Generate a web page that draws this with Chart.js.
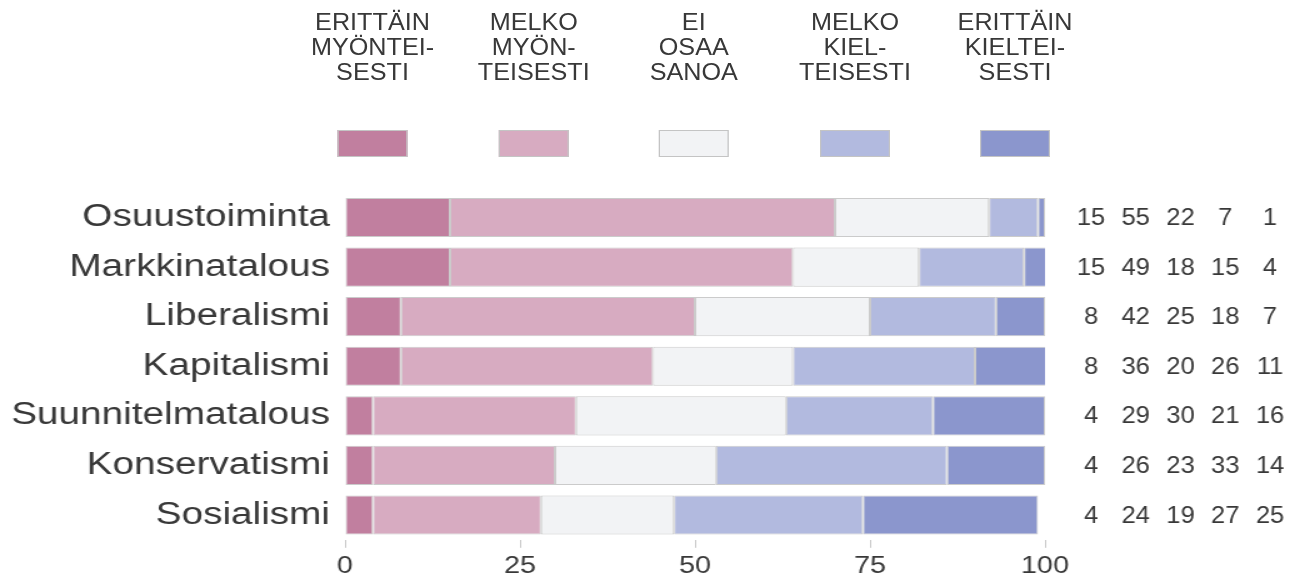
<!DOCTYPE html>
<html><head><meta charset="utf-8">
<script src="https://cdn.jsdelivr.net/npm/chart.js@4.4.1/dist/chart.umd.min.js"></script>
<style>
html,body{margin:0;padding:0;background:#fff;overflow:hidden;width:1307px;height:585px;}
#wrap{position:absolute;left:0;top:0;width:1046px;height:585px;transform:scaleX(1.25);transform-origin:0 0;}
#legend{position:absolute;left:0;top:0;width:100%;height:170px;}
.lt{position:absolute;top:9px;width:160px;margin-left:-80px;text-align:center;font-family:"Liberation Sans",Arial,sans-serif;font-size:24px;line-height:25px;color:#383838;transform:scaleX(0.84);transform-origin:50% 0;}
.sw{position:absolute;top:130px;width:56px;height:27px;margin-left:-28px;box-sizing:border-box;border:1px solid #c4c4c4;}
canvas{position:absolute;left:0;top:0;}
</style></head>
<body>
<div id="wrap">
  <canvas id="c" width="1046" height="585"></canvas>
  <div id="legend"></div>
</div>
<script>
// ---- data ----
const categories = ['Osuustoiminta','Markkinatalous','Liberalismi','Kapitalismi','Suunnitelmatalous','Konservatismi','Sosialismi'];
const seriesNames = [
  ['ERITTÄIN','MYÖNTEI-','SESTI'],
  ['MELKO','MYÖN-','TEISESTI'],
  ['EI','OSAA','SANOA'],
  ['MELKO','KIEL-','TEISESTI'],
  ['ERITTÄIN','KIELTEI-','SESTI']
];
const erittainMyonteisesti = [15, 15, 8, 8, 4, 4, 4];
const melkoMyonteisesti    = [55, 49, 42, 36, 29, 26, 24];
const eiOsaaSanoa          = [22, 18, 25, 20, 30, 23, 19];
const melkoKielteisesti    = [7, 15, 18, 26, 21, 33, 27];
const erittainKielteisesti = [1, 4, 7, 11, 16, 14, 25];
const xTicks = [0, 25, 50, 75, 100];

// ---- styles ----
const colors = ['#c17f9f', '#d7abc1', '#f2f3f5', '#b2badf', '#8b96cd'];
const seriesData = [erittainMyonteisesti, melkoMyonteisesti, eiOsaaSanoa, melkoKielteisesti, erittainKielteisesti];
const FONT = '"Liberation Sans", Arial, sans-serif';
const TEXT = '#383838';

const valuesColumn = {
  id: 'valuesColumn',
  afterDatasetsDraw(chart) {
    const {ctx, chartArea, scales: {y}} = chart;
    ctx.save();
    ctx.font = '24px ' + FONT;
    ctx.fillStyle = TEXT;
    ctx.textAlign = 'center';
    ctx.textBaseline = 'middle';
    chart.data.labels.forEach((lab, i) => {
      const yy = y.getPixelForValue(i);
      chart.data.datasets.forEach((ds, k) => {
        ctx.save();
        ctx.translate(chartArea.right + 36.8 + k * 35.8, yy + 1);
        ctx.scale(0.85, 1);
        ctx.fillText(String(ds.data[i]), 0, 0);
        ctx.restore();
      });
    });
    ctx.restore();
  }
};

const chart = new Chart(document.getElementById('c'), {
  type: 'bar',
  data: {
    labels: categories,
    datasets: seriesData.map((d, k) => ({
      label: seriesNames[k].join(' '),
      data: d,
      backgroundColor: colors[k],
      borderColor: 'rgba(140,140,140,0.45)',
      borderWidth: 1,
      borderSkipped: false,
      barPercentage: 0.79,
      categoryPercentage: 1
    }))
  },
  options: {
    indexAxis: 'y',
    responsive: false,
    animation: false,
    devicePixelRatio: 1,
    layout: {padding: {top: 192.7, right: 210, bottom: 0, left: 0}},
    plugins: {legend: {display: false}, tooltip: {enabled: false}},
    scales: {
      x: {
        stacked: true, min: 0, max: 100,
        afterBuildTicks: s => { s.ticks = xTicks.map(v => ({value: v})); },
        afterFit: s => { s.height = 45.2; },
        ticks: {font: {size: 23, family: FONT}, color: TEXT, padding: 5, maxRotation: 0},
        grid: {drawOnChartArea: false, drawTicks: true, tickLength: 8, color: '#c8c8c8'},
        border: {display: false}
      },
      y: {
        stacked: true,
        afterFit: s => { s.width = 276; },
        ticks: {font: {size: 31, family: FONT}, color: TEXT, padding: 12},
        grid: {display: false, drawTicks: false},
        border: {display: false}
      }
    }
  },
  plugins: [valuesColumn]
});

// ---- legend (HTML) ----
const legend = document.getElementById('legend');
seriesNames.forEach((lines, k) => {
  const cx = 298.4 + k * 128.4;
  const t = document.createElement('div');
  t.className = 'lt';
  t.style.left = cx + 'px';
  t.innerHTML = lines.join('<br>');
  legend.appendChild(t);
  const s = document.createElement('div');
  s.className = 'sw';
  s.style.left = cx + 'px';
  s.style.background = colors[k];
  legend.appendChild(s);
});
</script>
</body></html>
